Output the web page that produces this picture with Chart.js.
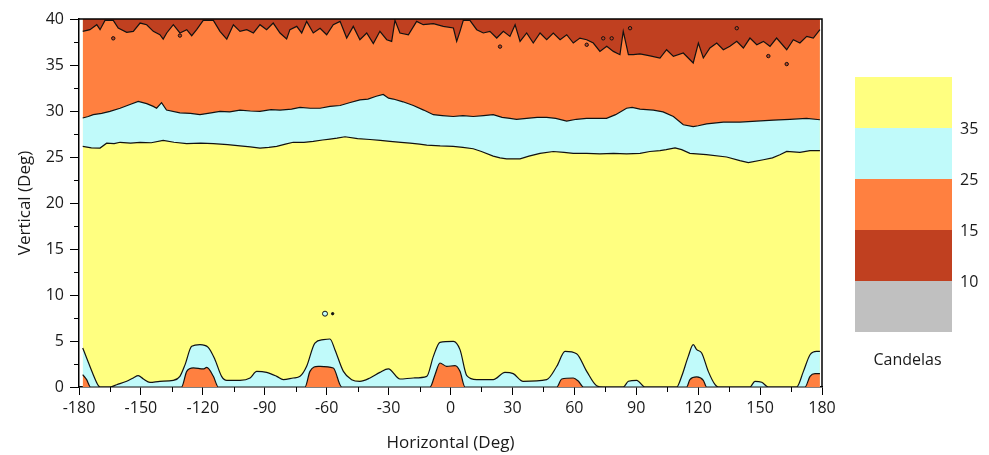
<!DOCTYPE html>
<html>
<head>
<meta charset="utf-8">
<script src="https://cdn.jsdelivr.net/npm/chart.js"></script>
<style>
  body { margin: 0; background: #fff; }
  #wrap { width: 989px; height: 455px; }
</style>
</head>
<body>
<div id="wrap"><canvas id="contour"></canvas></div>
<script>
// contour edges, as [horizontal deg, vertical deg]
const xSpan = [-178.2, 179];

// edge between the darkest band (top) and orange
const darkRedEdge = [[-178.2,38.66],[-174.7,38.84],[-171.4,39.38],[-169.8,38.84],[-167.4,39.85],[-163.4,39.85],[-161.0,39.02],[-156.9,38.55],[-153.7,38.66],[-150.4,39.56],[-147.2,39.38],[-144.0,38.66],[-140.8,38.29],[-139.2,37.82],[-137.5,38.48],[-134.3,39.38],[-131.1,38.48],[-127.8,38.84],[-125.4,38.18],[-123.0,38.84],[-119.8,39.85],[-114.9,39.85],[-111.7,38.66],[-108.4,37.82],[-105.2,39.38],[-102.0,38.66],[-98.7,38.84],[-95.5,38.48],[-92.3,39.38],[-89.1,38.84],[-85.9,39.56],[-82.6,38.48],[-79.4,37.82],[-77.8,38.84],[-74.5,39.2],[-72.1,38.48],[-69.7,39.74],[-66.5,38.48],[-63.2,39.0],[-60.0,38.29],[-56.8,39.38],[-53.5,39.74],[-50.3,37.93],[-47.1,39.2],[-43.9,37.75],[-40.6,38.48],[-37.4,37.32],[-34.2,38.66],[-30.9,37.75],[-28.5,37.57],[-26.9,39.85],[-24.5,38.48],[-20.4,38.29],[-16.4,39.74],[-13.2,39.38],[-8.3,39.49],[-3.5,39.2],[1.4,39.02],[3.0,37.57],[4.6,38.66],[6.2,39.85],[9.4,39.85],[12.7,38.84],[15.9,38.48],[19.1,38.66],[22.4,37.93],[25.6,38.66],[28.8,38.11],[31.3,39.38],[33.7,37.57],[36.9,38.48],[40.1,37.39],[43.4,38.48],[46.6,37.75],[49.8,38.48],[53.1,37.75],[56.3,38.29],[59.5,37.39],[62.7,37.93],[66.0,37.75],[69.2,37.39],[72.4,36.48],[75.7,37.03],[78.9,36.48],[82.1,36.12],[83.7,38.66],[86.2,36.12],[88.6,36.12],[91.8,36.2],[96.7,36.0],[101.5,35.76],[104.7,36.66],[108.0,35.94],[112.8,36.3],[117.6,35.22],[120.1,37.39],[122.5,35.76],[125.7,36.85],[129.0,37.39],[132.2,36.66],[135.4,37.03],[138.7,37.57],[141.9,36.85],[145.1,37.93],[148.4,37.21],[151.6,37.57],[154.8,37.03],[158.0,37.93],[162.9,36.66],[166.1,37.75],[169.3,37.39],[172.6,38.11],[175.8,37.93],[179.0,38.84]];

// edge between orange and light cyan
const orangeEdge = [[-178.2,29.24],[-175.5,29.4],[-173.1,29.6],[-169,29.75],[-165,29.96],[-160.1,30.3],[-155.3,30.7],[-151.3,31.05],[-147.2,30.8],[-144,30.5],[-142.4,30.3],[-140,30.9],[-137.6,30.1],[-131.1,29.8],[-126,29.75],[-121.4,29.6],[-116,29.8],[-111.7,29.96],[-107,29.9],[-102,30.1],[-97,30.0],[-92.3,29.96],[-87,30.15],[-82.6,30.1],[-77,30.2],[-72.9,30.4],[-68,30.3],[-63.2,30.3],[-58.4,30.5],[-53.5,30.6],[-49,30.9],[-43.9,31.2],[-40,31.3],[-36,31.6],[-32.6,31.8],[-30,31.4],[-27.7,31.3],[-23,31.0],[-18.0,30.6],[-13,30.1],[-8.3,29.6],[-4,29.5],[1.3,29.4],[6,29.5],[11.0,29.4],[16,29.5],[20.7,29.6],[25,29.3],[28.8,29.2],[32,29.1],[36.9,29.2],[42,29.3],[46.6,29.3],[51,29.2],[56.3,28.9],[61,29.1],[65.9,29.2],[70,29.2],[75.6,29.2],[80,29.6],[85.3,30.3],[88,30.4],[91.8,30.2],[98.3,30.1],[103,29.9],[108,29.4],[112.8,28.5],[117.6,28.3],[120,28.4],[124.1,28.6],[132.2,28.8],[140.2,28.8],[148.3,28.9],[156.4,29.0],[164.5,29.1],[172.5,29.2],[179,29.05]];

// edge between light cyan and yellow
const cyanEdge = [[-178.2,26.15],[-174,26.0],[-169.8,25.97],[-166.6,26.5],[-163,26.45],[-160.1,26.6],[-155,26.5],[-150.4,26.6],[-145,26.55],[-139.2,26.8],[-134,26.6],[-127.8,26.45],[-121,26.5],[-114.9,26.45],[-108,26.35],[-102,26.2],[-97,26.1],[-92.3,25.97],[-88,26.05],[-84.2,26.15],[-80,26.4],[-76.2,26.6],[-71,26.6],[-66.5,26.7],[-62,26.85],[-58.4,26.95],[-55,27.05],[-51.1,27.2],[-45,27.0],[-39.0,26.9],[-34,26.8],[-29.3,26.7],[-24,26.6],[-19.6,26.5],[-15,26.4],[-11.5,26.3],[-5,26.2],[1.3,26.15],[6,26.05],[11.0,25.9],[15,25.6],[20.7,25.1],[24,24.9],[27.2,24.8],[33.7,24.8],[38,25.1],[43.4,25.4],[49.8,25.6],[55,25.5],[59.5,25.4],[66,25.4],[72.4,25.35],[79,25.4],[85.3,25.35],[91.8,25.4],[96.6,25.6],[101.5,25.7],[104.5,25.8],[108.8,26.0],[112,25.8],[116,25.4],[124,25.25],[133.8,25.0],[140.2,24.6],[144.3,24.4],[151.6,24.7],[156,24.9],[159.6,25.25],[162.9,25.6],[169.3,25.5],[174.2,25.7],[179,25.7]];

// bumps along the bottom: light cyan over yellow, orange over cyan
const lowCyan = [[-178.2,4.24],[-176.3,3.15],[-173.1,1.34],[-170.6,0.14],[-169.8,0],[-165,0],[-161.7,0.25],[-156.9,0.62],[-153.7,0.98],[-151.3,1.23],[-148.8,0.87],[-145.6,0.51],[-140.8,0.62],[-134.3,0.72],[-131.1,1.16],[-128.6,2.43],[-125.4,4.42],[-121.4,4.6],[-117.4,4.31],[-114.1,2.97],[-110.9,1.16],[-108.4,0.72],[-102,0.72],[-97.1,0.98],[-93.9,1.7],[-89.1,1.59],[-84.2,1.16],[-81,0.8],[-76.2,0.98],[-72.9,1.16],[-69.7,2.25],[-65.7,4.78],[-61.6,5.14],[-58.4,5.22],[-56,4.06],[-51.9,1.7],[-47.9,0.8],[-43.9,0.62],[-39,0.98],[-34.2,1.59],[-30.1,1.96],[-24.5,0.87],[-18,0.98],[-11.5,1.16],[-8.3,3.33],[-5.1,4.86],[1.4,4.96],[4.6,4.06],[7.9,1.23],[12.7,0.8],[20.7,0.8],[26.4,1.59],[30.4,1.45],[35.2,0.62],[46.6,0.8],[51.5,2.25],[55.5,3.88],[61.1,3.62],[66,1.7],[70.8,0.14],[74,0],[83.7,0],[86.2,0.62],[90.2,0.72],[94.2,0],[109.6,0],[112,1.16],[115.2,3.33],[117.6,4.6],[119.3,4.06],[121.7,3.7],[124.9,1.7],[128.2,0.25],[129.8,0],[145.1,0],[147.5,0.62],[150.8,0.51],[154,0],[167.7,0],[171,1.7],[174.2,3.51],[177.4,3.88],[179,3.88]];

const lowOrange = [[-178.2,1.34],[-176.3,0.8],[-174.4,0],[-130.3,0],[-127.8,1.7],[-124.6,2.07],[-119.8,1.96],[-118.1,2.14],[-114.9,1.16],[-112.5,0],[-70.5,0],[-68.1,1.7],[-64.1,2.25],[-63.2,2.25],[-56.8,2.07],[-52.7,0],[-9.9,0],[-7.5,1.34],[-5.1,2.61],[-1.9,2.25],[2.2,2.32],[4.6,1.7],[7,0],[51.5,0],[53.9,0.87],[59.5,0.98],[62,0.62],[64.4,0],[114.4,0],[116,0.8],[119.3,1.09],[122.5,0.72],[124.1,0],[171.8,0],[174.2,1.16],[176.6,1.45],[179,1.45]];

// small closed contours
const islands = [[-163.4,37.9],[-131.1,38.2],[24,37.0],[66,37.2],[74,37.9],[78.1,37.9],[87,39.0],[138.7,39.0],[154,35.97],[162.9,35.1]];
const specks = [[-60.8,7.97],[-57.1,7.97]];

// colour key
const levelColors = ['#FFFF80', '#C0FAFA', '#FF8040', '#C04020', '#C0C0C0'];
const levelLabels = ['35', '25', '15', '10'];
const keyTitle = 'Candelas';

const xMinor = [-165, -135, -105, -75, -45, -15, 15, 45, 75, 105, 135, 165];
const yMinor = [2.5, 7.5, 12.5, 17.5, 22.5, 27.5, 32.5, 37.5];

const pts = arr => arr.map(([x, y]) => ({x, y}));
const edge = '#111';

Chart.defaults.font.family = '"Open Sans", sans-serif';
Chart.defaults.color = '#1a1a1a';

const frameAndKey = {
  id: 'frameAndKey',
  afterDraw(chart) {
    const {ctx, chartArea: a, scales: {x, y}} = chart;
    ctx.save();
    ctx.strokeStyle = '#000';
    ctx.lineWidth = 1.5;
    ctx.beginPath();
    ctx.moveTo(a.left, a.top);
    ctx.lineTo(a.right, a.top);
    ctx.lineTo(a.right, a.bottom);
    ctx.stroke();

    ctx.lineWidth = 1;
    ctx.beginPath();
    xMinor.forEach(v => {
      const px = Math.round(x.getPixelForValue(v)) + 0.5;
      ctx.moveTo(px, a.bottom);
      ctx.lineTo(px, a.bottom + 5);
    });
    yMinor.forEach(v => {
      const py = Math.round(y.getPixelForValue(v)) + 0.5;
      ctx.moveTo(a.left - 5, py);
      ctx.lineTo(a.left, py);
    });
    ctx.stroke();

    // colour bar
    const left = 855, top = 77, w = 97, h = 51;
    levelColors.forEach((c, i) => {
      ctx.fillStyle = c;
      ctx.fillRect(left, top + i * h, w, h);
    });
    ctx.fillStyle = '#1a1a1a';
    ctx.font = '16px "Open Sans", sans-serif';
    ctx.textBaseline = 'middle';
    ctx.textAlign = 'left';
    levelLabels.forEach((t, i) => {
      ctx.fillText(t, left + w + 8, top + (i + 1) * h + 1);
    });
    ctx.textAlign = 'center';
    ctx.fillText(keyTitle, left + w / 2 + 4, 360);
    ctx.restore();
  }
};

new Chart(document.getElementById('contour'), {
  type: 'line',
  data: {
    datasets: [
      { label: 'specks', data: pts(specks), showLine: false, pointRadius: [2.5, 1.2],
        pointBackgroundColor: ['#C0FAFA', '#111'], pointBorderColor: '#111', pointBorderWidth: 1, order: 0 },
      { label: 'islands', data: pts(islands), showLine: false, pointRadius: 1.7,
        pointBackgroundColor: '#C04020', pointBorderColor: '#111', pointBorderWidth: 1, order: 1 },
      { label: 'low orange', data: pts(lowOrange), fill: 'origin', backgroundColor: levelColors[2],
        borderColor: edge, borderWidth: 1.2, cubicInterpolationMode: 'monotone', order: 2 },
      { label: 'low cyan', data: pts(lowCyan), fill: 'origin', backgroundColor: levelColors[1],
        borderColor: edge, borderWidth: 1.2, cubicInterpolationMode: 'monotone', order: 3 },
      { label: 'dark red', data: pts(darkRedEdge), fill: 'end', backgroundColor: levelColors[3],
        borderColor: edge, borderWidth: 1.2, order: 4 },
      { label: 'orange', data: pts(orangeEdge), fill: 'end', backgroundColor: levelColors[2],
        borderColor: edge, borderWidth: 1.2, order: 5 },
      { label: 'cyan', data: pts(cyanEdge), fill: 'end', backgroundColor: levelColors[1],
        borderColor: edge, borderWidth: 1.2, order: 6 },
      { label: 'yellow', data: pts([[xSpan[0], 40], [xSpan[1], 40]]), fill: 'origin',
        backgroundColor: levelColors[0], borderWidth: 0, order: 7 }
    ]
  },
  options: {
    responsive: true,
    maintainAspectRatio: false,
    animation: false,
    devicePixelRatio: 1,
    layout: { padding: { top: 19, right: 167, left: 0, bottom: 0 } },
    elements: { point: { radius: 0 }, line: { tension: 0 } },
    plugins: { legend: { display: false }, tooltip: { enabled: false } },
    scales: {
      x: {
        type: 'linear', min: -180, max: 180,
        ticks: { stepSize: 30, font: { size: 16 }, padding: 4, maxRotation: 0 },
        grid: { drawOnChartArea: false, drawTicks: true, tickLength: 8, tickColor: '#000', tickWidth: 1 },
        border: { color: '#000', width: 1.5 },
        title: { display: true, text: 'Horizontal (Deg)', font: { size: 17 }, padding: { top: 0, bottom: 2 } },
        afterFit: s => { s.height = 68; }
      },
      y: {
        type: 'linear', min: 0, max: 40,
        ticks: { stepSize: 5, font: { size: 16 }, padding: 6 },
        grid: { drawOnChartArea: false, drawTicks: true, tickLength: 9, tickColor: '#000', tickWidth: 1 },
        border: { color: '#000', width: 1.5 },
        title: { display: true, text: 'Vertical (Deg)', font: { size: 17 }, padding: { top: 15, bottom: 0 } },
        afterFit: s => { s.width = 79; }
      }
    }
  },
  plugins: [frameAndKey]
});
</script>
</body>
</html>
